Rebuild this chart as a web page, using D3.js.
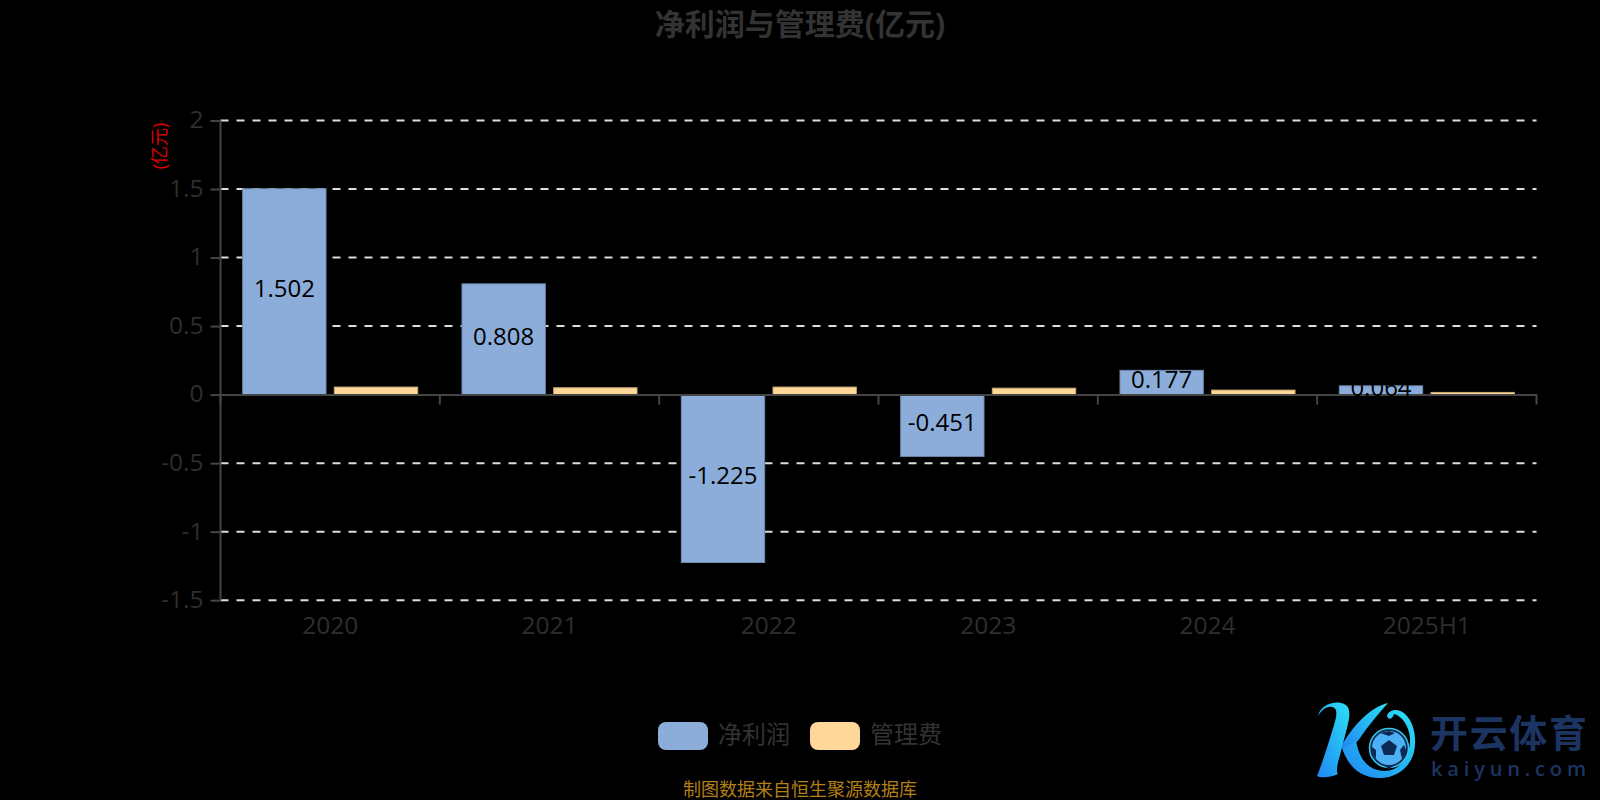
<!DOCTYPE html>
<html><head><meta charset="utf-8">
<script src="https://cdn.jsdelivr.net/npm/d3@7/dist/d3.min.js"></script>
<style>html,body{margin:0;padding:0;background:#000;overflow:hidden}svg{display:block}text{font-family:"Open Sans","Noto Sans CJK SC",sans-serif}</style>
</head><body><div id="c"></div>
<script>
const categories=["2020","2021","2022","2023","2024","2025H1"];
const netProfit=[1.502,0.808,-1.225,-0.451,0.177,0.064];
const adminFee=[0.055,0.05,0.055,0.047,0.033,0.016];
const yTicks=[2,1.5,1,0.5,0,-0.5,-1,-1.5];
const seriesNames=["净利润","管理费"];
const seriesColors=["#8cadda","#ffd899"];

const W=1600,H=800,L=220.5,R=1536.5,T=120.5,B=600.2;
const svg=d3.select("#c").append("svg").attr("width",W).attr("height",H).style("background","#000");
const x=d3.scaleBand().domain(categories).range([L,R]);
const y=d3.scaleLinear().domain([-1.5,2]).range([B,T]);
const bw=x.bandwidth()*0.38,gap=x.bandwidth()*0.038,off=(x.bandwidth()-2*bw-gap)/2;
const grey="#2e2e2e",axisC="#444";

// grid
svg.append("g").selectAll("line").data(yTicks.filter(d=>d!==0)).join("line")
 .attr("x1",L).attr("x2",R).attr("y1",d=>y(d)).attr("y2",d=>y(d))
 .attr("stroke","#ddd").attr("stroke-width",2).attr("stroke-dasharray","8,8");

// bars
[netProfit,adminFee].forEach((vals,i)=>{
 svg.append("g").selectAll("rect").data(vals).join("rect")
  .attr("x",(d,j)=>x(categories[j])+off+i*(bw+gap))
  .attr("y",d=>Math.min(y(d),y(0)))
  .attr("width",bw)
  .attr("height",d=>Math.abs(y(d)-y(0)))
  .attr("fill",seriesColors[i])
  .attr("stroke",i==0?"#6f89ad":"#c9aa78").attr("stroke-width",1);
});

// axes
const ax=svg.append("g").attr("transform",`translate(0,${y(0)})`)
 .call(d3.axisBottom(x).tickValues([]).tickSize(0));
ax.select(".domain").attr("stroke",axisC).attr("stroke-width",2);
svg.append("g").selectAll("line").data(categories.concat(["end"])).join("line")
 .attr("x1",(d,i)=>i<6?x(d):R).attr("x2",(d,i)=>i<6?x(d):R)
 .attr("y1",y(0)).attr("y2",y(0)+10).attr("stroke",axisC).attr("stroke-width",2);
const ay=svg.append("g").attr("transform",`translate(${L},0)`)
 .call(d3.axisLeft(y).tickValues(yTicks).tickSize(10).tickPadding(7).tickFormat(d=>String(d)));
ay.select(".domain").attr("stroke",axisC).attr("stroke-width",2).attr("d",`M0,${T}V${B}`);
ay.selectAll(".tick line").attr("stroke",axisC).attr("stroke-width",2);
ay.selectAll(".tick text").attr("fill",grey).style("font-size","24.5px").attr("dy","0.3em");

svg.append("g").selectAll("text").data(categories).join("text")
 .attr("x",d=>x(d)+x.bandwidth()/2).attr("y",634).attr("text-anchor","middle")
 .attr("fill",grey).style("font-size","24.5px").text(d=>d);

// value labels
svg.append("g").selectAll("text").data(netProfit).join("text")
 .attr("x",(d,j)=>x(categories[j])+off+bw/2)
 .attr("y",d=>(y(d)+y(0))/2+5.5).attr("text-anchor","middle")
 .attr("fill","#000").style("font-size","24px").text(d=>d);

// y name
svg.append("text").attr("transform","translate(166,146) rotate(-90)").attr("text-anchor","middle")
 .attr("fill","#e00000").style("font-size","18px").text("(亿元)");

// title
svg.append("text").attr("x",800).attr("y",35).attr("text-anchor","middle").attr("fill","#333")
 .style("font-size","30px").style("font-weight","700").text("净利润与管理费(亿元)");

// legend
const legX=[658,810];
seriesNames.forEach((n,i)=>{
 svg.append("rect").attr("x",legX[i]).attr("y",722).attr("width",50).attr("height",28).attr("rx",8)
  .attr("fill",seriesColors[i]);
 svg.append("text").attr("x",legX[i]+60).attr("y",743).attr("fill","#333").style("font-size","24px").text(n);
});

// footer
svg.append("text").attr("x",800).attr("y",796).attr("text-anchor","middle").attr("fill","#b47f16")
 .style("font-size","18px").text("制图数据来自恒生聚源数据库");

// watermark
const defs=svg.append("defs");
const g=defs.append("linearGradient").attr("id","lg").attr("x1","0").attr("y1","1").attr("x2","1").attr("y2","0");
g.append("stop").attr("offset","0").attr("stop-color","#1f86f2");
g.append("stop").attr("offset","1").attr("stop-color","#2be0f5");
const wm=svg.append("g");
wm.append("path").attr("fill","url(#lg)").attr("d","M1318,716 C1320,706 1332,701 1341,703 C1352,705 1350,716 1347,728 L1340,755 C1337,765 1336,772 1338,774 C1330,778 1320,778 1317,776 C1322,764 1328,745 1334,725 C1337,715 1338,708 1332,707 C1326,706 1322,710 1318,716 Z");
wm.append("path").attr("fill","url(#lg)").attr("d","M1342,745 C1352,728 1368,708 1388,703 C1378,714 1368,726 1360,738 C1355,745 1349,748 1342,748 Z");
wm.append("path").attr("fill","url(#lg)").attr("d","M1342,748 C1348,746 1353,744 1356,740 C1358,755 1366,771 1385,771 C1402,771 1411,752 1410,738 C1409,726 1402,716 1394,714 C1392,720 1388,720 1387,716 C1388,710 1398,707 1405,714 C1414,722 1417,738 1414,752 C1410,768 1396,778 1380,778 C1360,778 1348,766 1342,748 Z");
wm.append("circle").attr("cx",1389).attr("cy",748).attr("r",19.5).attr("fill","#0d2a50").attr("stroke","#35c9f0").attr("stroke-width",1.5);
wm.append("circle").attr("cx",1389).attr("cy",748).attr("r",17).attr("fill","#4db0f5");
wm.append("path").attr("fill","#0b2a55").attr("d","M1389,740 L1397,746 L1394,755 L1384,755 L1381,746 Z M1380,733 L1389,731 L1395,733 L1389,736 Z M1404,745 L1407,752 L1402,759 L1400,750 Z M1372,747 L1376,750 L1376,758 L1371,754 Z M1383,765 L1395,765 L1389,769 Z");
wm.append("text").attr("x",1430).attr("y",747).attr("fill","#1c3462").style("font-size","38px").style("font-weight","700").attr("textLength",157).text("开云体育");
wm.append("text").attr("x",1431).attr("y",776).attr("fill","#1c3462").style("font-size","20px").style("font-weight","600").attr("textLength",155).text("kaiyun.com");
</script></body></html>
